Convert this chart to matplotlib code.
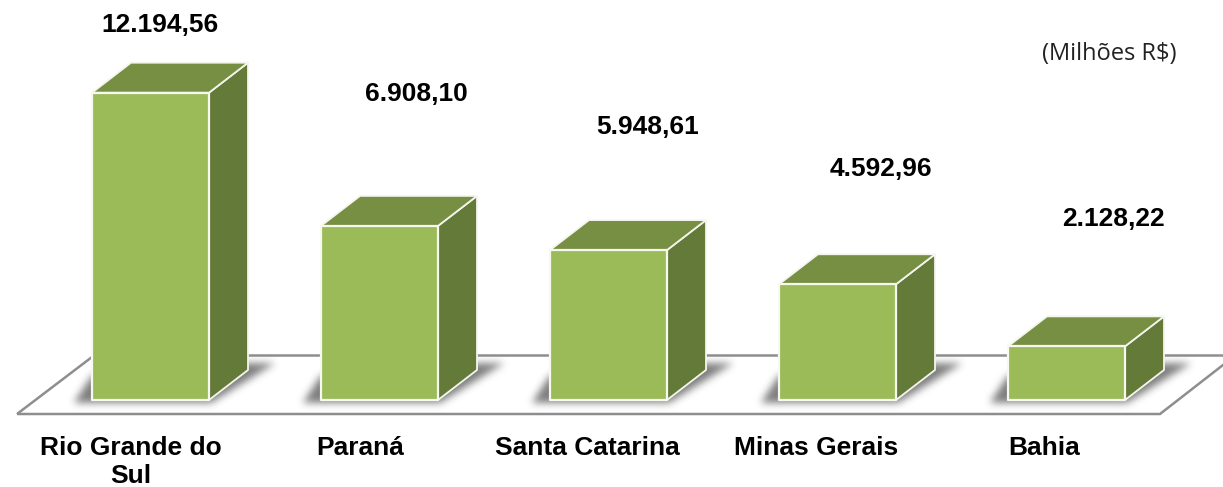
import matplotlib
matplotlib.use('Agg')
import matplotlib.pyplot as plt
import numpy as np
from matplotlib.patches import Polygon
from matplotlib.path import Path

estados = ['Rio Grande do\nSul', 'Paraná', 'Santa Catarina', 'Minas Gerais', 'Bahia']
valores = [12194.56, 6908.10, 5948.61, 4592.96, 2128.22]
rotulos = ['12.194,56', '6.908,10', '5.948,61', '4.592,96', '2.128,22']

# layout, all in pixels of the 1223x487 picture
W, H = 1223, 487
PX_POR_CAT = 229.0
PX_POR_VALOR = 0.0252
X0_PX = 150.5
Y0_PX = 400.0
LARG_PX = 117
PROF_X = 39
PROF_Y = 30
rotulo_x = [160, 416, 648, 881, 1113]
rotulo_y = [25, 94, 127, 169, 219]
cat_x = [131, 360, 587, 816, 1044]

FRENTE = '#9BBB59'
TOPO = '#778F43'
LADO = '#647A38'
CINZA = '#8E8E8E'

fig = plt.figure(figsize=(W / 100, H / 100), dpi=100)
ax = fig.add_axes([0, 0, 1, 1])
ax.set_xlim(-X0_PX / PX_POR_CAT, (W - X0_PX) / PX_POR_CAT)
ax.set_ylim(-(H - Y0_PX) / PX_POR_VALOR, Y0_PX / PX_POR_VALOR)
ax.axis('off')


def px(x, y):
    return ((x - X0_PX) / PX_POR_CAT, (Y0_PX - y) / PX_POR_VALOR)


# soft shadow: one blurred shape, used under every bar
SW, SH = 260, 70  # pixels, origin at (bar left - 40, y=350)
sombra_forma = [(22, 53), (40 + LARG_PX + 2, 53), (40 + LARG_PX + 66, 14), (40 + LARG_PX + 30, 14), (40, 26)]
gx, gy = np.meshgrid(np.arange(SW) + 0.5, np.arange(SH) + 0.5)
mask = Path(sombra_forma).contains_points(np.c_[gx.ravel(), gy.ravel()]).reshape(SH, SW).astype(float)
for _ in range(7):
    for eixo in (0, 1):
        mask = sum(np.roll(mask, d, axis=eixo) for d in range(-2, 3)) / 5
rgba = np.zeros((SH, SW, 4))
rgba[..., :3] = 0.25
rgba[..., 3] = mask * 0.68

# floor
for seg in ([(17, 414), (1160, 414), (1232, 358)], [(17, 414), (92, 357)], [(92, 355), (W, 355)]):
    ax.plot(*zip(*[px(a, b) for a, b in seg]), color=CINZA, lw=1.8, zorder=1,
            solid_capstyle='butt', solid_joinstyle='miter')

dx = LARG_PX / 2 / PX_POR_CAT
pdx = PROF_X / PX_POR_CAT
pdy = PROF_Y / PX_POR_VALOR

for i, v in enumerate(valores):
    left_px = X0_PX + i * PX_POR_CAT - LARG_PX / 2
    e0, t0 = px(left_px - 40, 350)
    e1, b0 = px(left_px - 40 + SW, 350 + SH)
    ax.imshow(rgba, extent=(e0, e1, b0, t0), origin='upper', aspect='auto', zorder=2,
              interpolation='bilinear')

    x1, x2 = i - dx, i + dx
    frente = [(x1, 0), (x2, 0), (x2, v), (x1, v)]
    topo = [(x1, v), (x2, v), (x2 + pdx, v + pdy), (x1 + pdx, v + pdy)]
    lado = [(x2, 0), (x2 + pdx, pdy), (x2 + pdx, v + pdy), (x2, v)]
    ax.add_patch(Polygon(lado, fc=LADO, ec='#F4F6EE', lw=1.3, zorder=3, joinstyle='round'))
    ax.add_patch(Polygon(topo, fc=TOPO, ec='#F4F6EE', lw=1.3, zorder=3, joinstyle='round'))
    ax.add_patch(Polygon(frente, fc=FRENTE, ec='#F7F9F0', lw=1.6, zorder=4, joinstyle='round'))

    ax.text(*px(rotulo_x[i], rotulo_y[i]), rotulos[i], family='Liberation Sans', weight='bold',
            fontsize=19, color='black', ha='center', va='center', zorder=5)
    ax.text(*px(cat_x[i], 436), estados[i], family='Liberation Sans', weight='bold',
            fontsize=19, color='black', ha='center', va='top', linespacing=1.22, zorder=5)

ax.text(*px(1176, 54), '(Milhões R$)', family='Open Sans', fontsize=17, color='#222222',
        ha='right', va='center')

ax.set_xlim(-X0_PX / PX_POR_CAT, (W - X0_PX) / PX_POR_CAT)
ax.set_ylim(-(H - Y0_PX) / PX_POR_VALOR, Y0_PX / PX_POR_VALOR)
fig.savefig('out.png', dpi=100)
